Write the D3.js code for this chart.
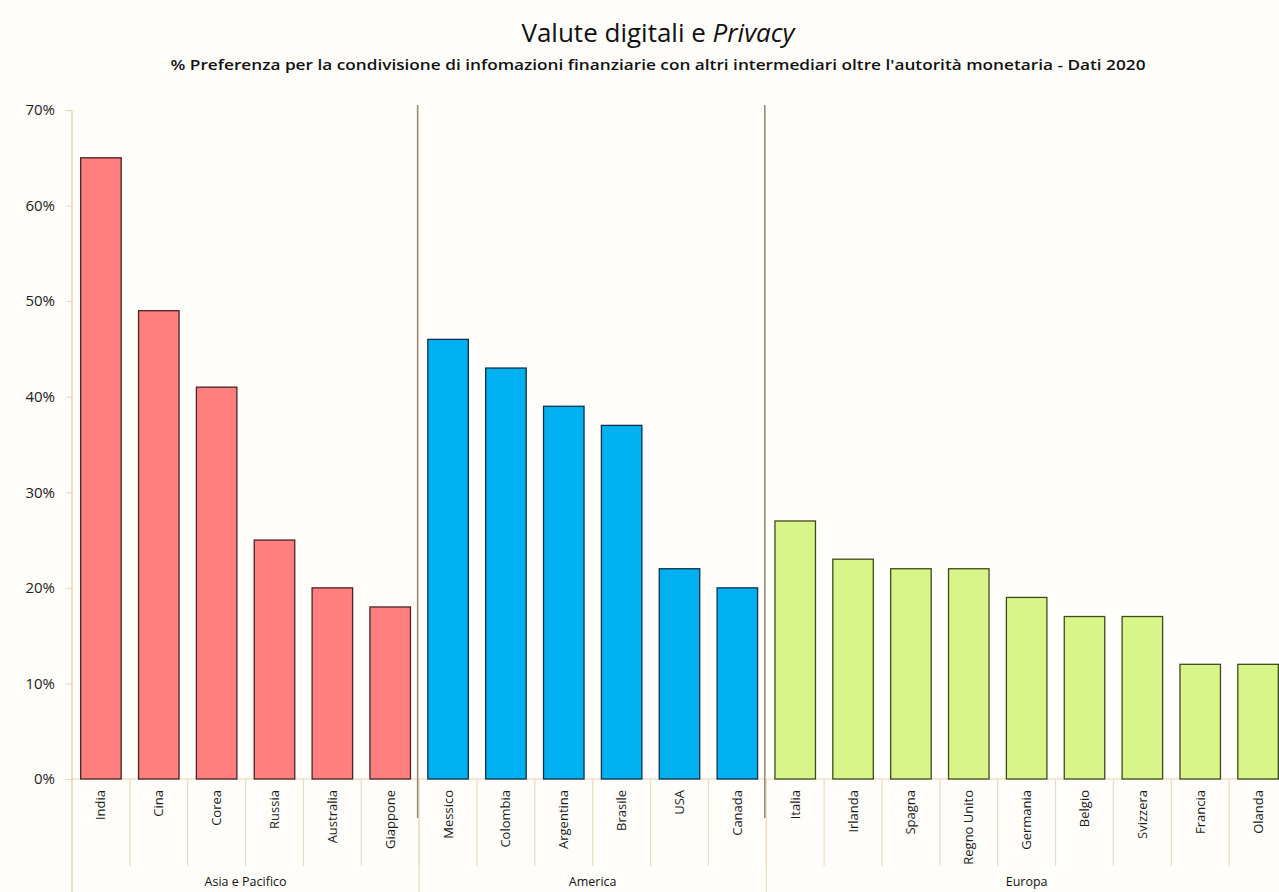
<!DOCTYPE html>
<meta charset="utf-8">
<style>
  body { margin: 0; background: #fffefb; }
  svg { display: block; font-family: "Open Sans", "Noto Sans", sans-serif; }
  .ytick text { font-size: 15px; fill: #222; }
  .cat { font-size: 13px; fill: #1a1a1a; }
  .grp { font-size: 12.5px; fill: #111; }
</style>
<script src="https://d3js.org/d3.v7.min.js"></script>
<div id="chart"></div>
<script>
// data
var countries = ["India", "Cina", "Corea", "Russia", "Australia", "Giappone",
                 "Messico", "Colombia", "Argentina", "Brasile", "USA", "Canada",
                 "Italia", "Irlanda", "Spagna", "Regno Unito", "Germania", "Belgio", "Svizzera", "Francia", "Olanda"];
var values = [65, 49, 41, 25, 20, 18,
              46, 43, 39, 37, 22, 20,
              27, 23, 22, 22, 19, 17, 17, 12, 12];
var regions = ["Asia e Pacifico", "America", "Europa"];
var regionSizes = [6, 6, 9];
var yTicks = [0, 10, 20, 30, 40, 50, 60, 70];

var colors = {
  "Asia e Pacifico": {fill: "#ff7f7f", stroke: "#4a2222"},
  "America": {fill: "#00b0f0", stroke: "#10304a"},
  "Europa": {fill: "#d8f58a", stroke: "#3e4a1c"}
};

var W = 1279, H = 892;
var x0 = 72, x1 = 1287, yTop = 110, yBot = 779;

var svg = d3.select("#chart").append("svg")
    .attr("width", W).attr("height", H);

// region of each country
var regionOf = [];
regions.forEach(function(r, i) {
  for (var k = 0; k < regionSizes[i]; k++) regionOf.push(r);
});

var x = d3.scaleBand().domain(countries).range([x0, x1]).paddingInner(0.3).paddingOuter(0.15);
var y = d3.scaleLinear().domain([0, 70]).range([yBot, yTop]);

// titles
svg.append("text")
    .attr("x", 658).attr("y", 42)
    .attr("text-anchor", "middle")
    .style("font-size", "26px").style("fill", "#111")
    .text("Valute digitali e ")
    .append("tspan").style("font-style", "italic").text("Privacy");

svg.append("text")
    .attr("x", 658).attr("y", 70)
    .attr("text-anchor", "middle")
    .attr("textLength", 975).attr("lengthAdjust", "spacingAndGlyphs")
    .style("font-size", "14px").style("font-weight", "600").style("fill", "#111")
    .text("% Preferenza per la condivisione di infomazioni finanziarie con altri intermediari oltre l'autorità monetaria - Dati 2020");

// y axis
var yAxis = svg.append("g")
    .attr("class", "ytick")
    .attr("transform", "translate(" + x0 + ",0)")
    .call(d3.axisLeft(y).tickValues(yTicks).tickSize(6).tickPadding(11)
      .tickFormat(function(d) { return d + "%"; }));
yAxis.attr("font-family", null).attr("font-size", null);
yAxis.select(".domain").remove();
yAxis.selectAll("line").attr("stroke", "#e6d4b0");

svg.append("line")
    .attr("x1", x0).attr("x2", x0).attr("y1", yTop).attr("y2", H)
    .attr("stroke", "#e6d4b0").attr("stroke-width", 1.5);

// x axis baseline
svg.append("line")
    .attr("x1", x0).attr("x2", x1).attr("y1", yBot).attr("y2", yBot)
    .attr("stroke", "#e6d4b0").attr("stroke-width", 1);

// category separators below axis
var step = x.step();
var gap = x.paddingInner() * step / 2;
svg.selectAll(".sep")
  .data(countries.slice(1))
  .enter().append("line")
    .attr("x1", function(d) { return x(d) - gap; })
    .attr("x2", function(d) { return x(d) - gap; })
    .attr("y1", yBot).attr("y2", 866)
    .attr("stroke", "#ecdcc0").attr("stroke-width", 1.2);

// region boundaries
var cum = 0;
var bounds = [];
regionSizes.forEach(function(n, i) {
  var first = countries[cum], last = countries[cum + n - 1];
  var left = i === 0 ? x0 : x(first) - gap;
  var right = i === regionSizes.length - 1 ? x1 : x(last) + x.bandwidth() + gap;
  bounds.push({name: regions[i], left: left, right: right});
  cum += n;
});

bounds.slice(1).forEach(function(b) {
  svg.append("line")
      .attr("x1", b.left - 1.5).attr("x2", b.left - 1.5).attr("y1", 105).attr("y2", 818)
      .attr("stroke", "#9c8a76").attr("stroke-width", 1.6);
  svg.append("line")
      .attr("x1", b.left).attr("x2", b.left).attr("y1", 818).attr("y2", H)
      .attr("stroke", "#ecdcc0").attr("stroke-width", 1.2);
});

// bars
svg.selectAll(".bar")
  .data(countries)
  .enter().append("rect")
    .attr("x", function(d) { return x(d); })
    .attr("y", function(d, i) { return y(values[i]); })
    .attr("width", x.bandwidth())
    .attr("height", function(d, i) { return yBot - y(values[i]); })
    .attr("fill", function(d, i) { return colors[regionOf[i]].fill; })
    .attr("stroke", function(d, i) { return colors[regionOf[i]].stroke; })
    .attr("stroke-width", 1.3);

// category labels
svg.selectAll(".cat")
  .data(countries)
  .enter().append("text")
    .attr("class", "cat")
    .attr("text-anchor", "end")
    .attr("dy", "0.35em")
    .attr("transform", function(d) {
      return "translate(" + (x(d) + x.bandwidth() / 2) + ",790) rotate(-90)";
    })
    .text(function(d) { return d; });

// region labels
svg.selectAll(".grp")
  .data(bounds)
  .enter().append("text")
    .attr("class", "grp")
    .attr("text-anchor", "middle")
    .attr("x", function(d) { return (d.left + d.right) / 2; })
    .attr("y", 886)
    .text(function(d) { return d.name; });
</script>
